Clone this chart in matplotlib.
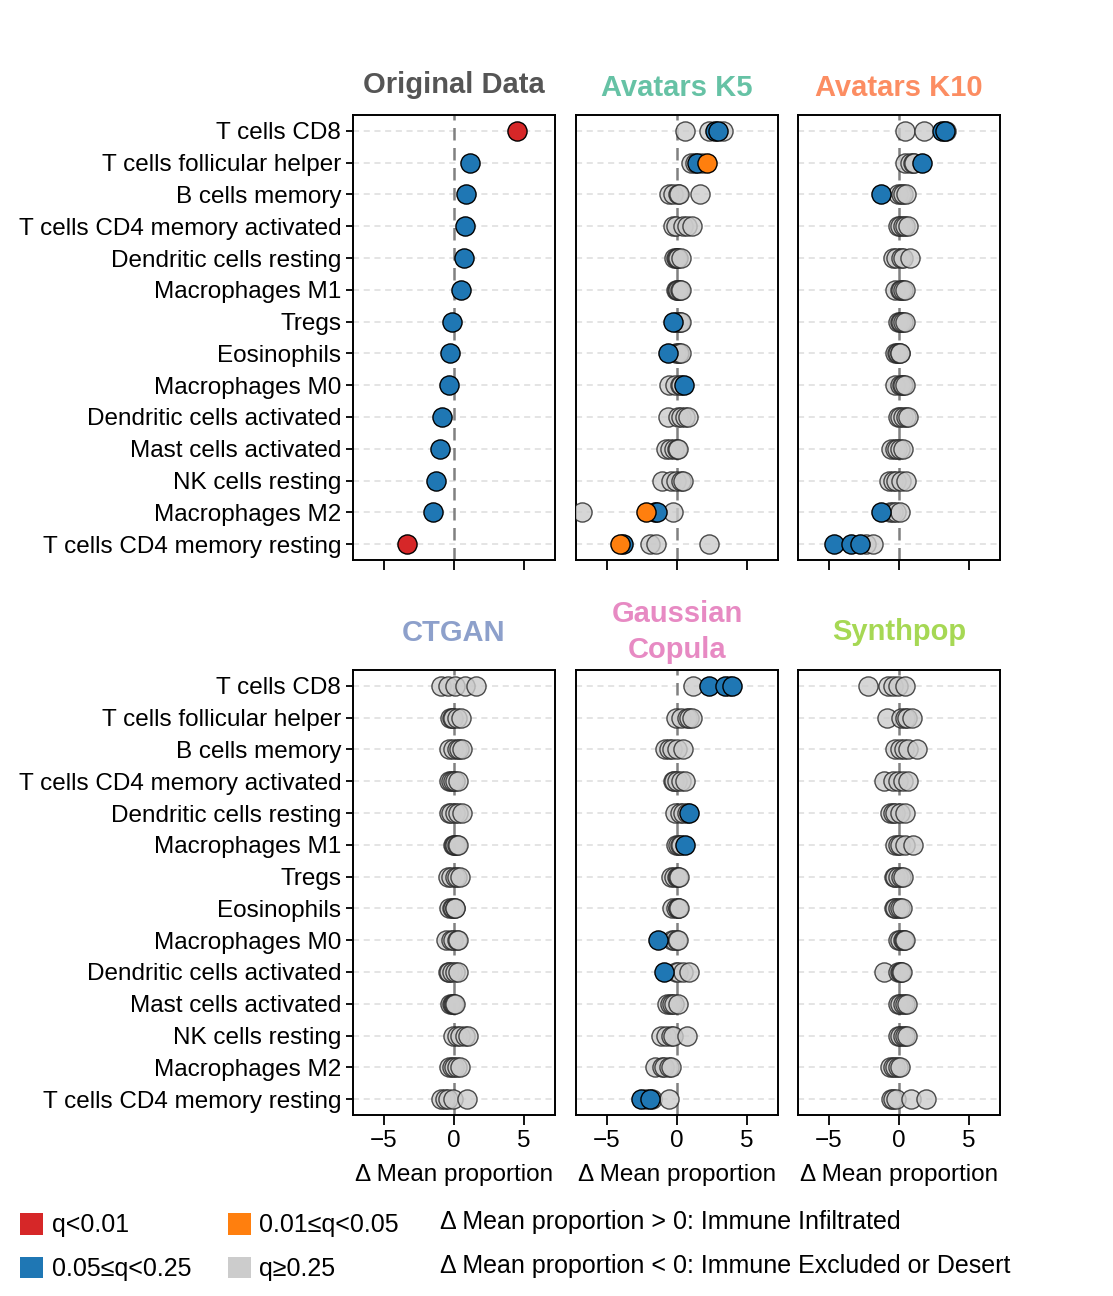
import matplotlib
matplotlib.use("Agg")
import matplotlib.pyplot as plt
from matplotlib.patches import Patch

plt.rcParams['font.family'] = ['Liberation Sans', 'DejaVu Sans']

cell_types = ["T cells CD8", "T cells follicular helper", "B cells memory",
              "T cells CD4 memory activated", "Dendritic cells resting", "Macrophages M1",
              "Tregs", "Eosinophils", "Macrophages M0", "Dendritic cells activated",
              "Mast cells activated", "NK cells resting", "Macrophages M2",
              "T cells CD4 memory resting"]

panel_titles = ["Original Data", "Avatars K5", "Avatars K10", "CTGAN", "Gaussian\nCopula", "Synthpop"]
title_colors = ["#555555", "#66c2a5", "#fc8d62", "#8da0cb", "#e78ac3", "#a6d854"]

cat_colors = {"r": "#d62728", "o": "#ff7f0e", "b": "#1f77b4", "g": "#cccccc"}
legend_labels = {"r": "q<0.01", "o": "0.01≤q<0.05", "b": "0.05≤q<0.25", "g": "q≥0.25"}

orig_vals = [[4.47], [1.13], [0.85], [0.78], [0.71], [0.5], [-0.14], [-0.28], [-0.35],
             [-0.85], [-1.0], [-1.28], [-1.49], [-3.33]]
orig_cats = [["r"], ["b"], ["b"], ["b"], ["b"], ["b"], ["b"], ["b"], ["b"], ["b"], ["b"],
             ["b"], ["b"], ["r"]]

k5_vals = [[0.55, 2.25, 2.7, 2.9, 3.3], [1.0, 1.25, 1.45, 1.75, 2.15],
           [-0.55, -0.25, 0.05, 0.15, 1.65], [-0.3, -0.05, 0.45, 0.7, 1.05],
           [-0.2, -0.1, 0.0, 0.1, 0.25], [-0.05, 0.0, 0.1, 0.2, 0.25],
           [-0.25, -0.1, 0.05, 0.2, 0.3], [-0.65, -0.1, 0.05, 0.15, 0.25],
           [-0.6, -0.15, 0.2, 0.3, 0.5], [-0.65, 0.1, 0.25, 0.6, 0.75],
           [-0.75, -0.5, -0.2, 0.0, 0.1], [-1.05, -0.4, -0.1, 0.25, 0.45],
           [-6.75, -2.2, -1.6, -1.4, -0.25], [-4.05, -3.85, -1.9, -1.5, 2.25]]
k5_cats = [list("ggbbg"), list("ggbgo"), list("ggggg"), list("ggggg"), list("ggggg"),
           list("ggggg"), list("bgggg"), list("bgggg"), list("ggggb"), list("ggggg"),
           list("ggggg"), list("ggggg"), list("gobbg"), list("obggg")]

k10_vals = [[0.45, 1.8, 3.1, 3.3, 3.35], [0.4, 0.75, 1.0, 1.1, 1.65],
            [-1.3, -0.05, 0.15, 0.3, 0.5], [-0.05, 0.1, 0.3, 0.45, 0.65],
            [-0.4, -0.2, 0.15, 0.3, 0.75], [-0.25, 0.05, 0.15, 0.3, 0.4],
            [-0.05, 0.05, 0.15, 0.3, 0.4], [-0.3, -0.15, -0.05, 0.05, 0.1],
            [-0.25, 0.05, 0.2, 0.3, 0.4], [-0.05, 0.05, 0.3, 0.5, 0.65],
            [-0.55, -0.3, -0.15, 0.1, 0.3], [-0.7, -0.45, -0.2, 0.15, 0.5],
            [-1.3, -0.65, -0.4, -0.2, 0.1], [-4.6, -3.4, -2.8, -2.35, -1.85]]
k10_cats = [list("ggbbg"), list("ggggb"), list("bgggg"), list("ggggg"), list("ggggg"),
            list("ggggg"), list("ggggg"), list("ggggg"), list("ggggg"), list("ggggg"),
            list("ggggg"), list("ggggg"), list("bgggg"), list("bbbgg")]

ctgan_vals = [[-0.9, -0.45, 0.05, 0.75, 1.55], [-0.3, -0.15, -0.05, 0.2, 0.5],
              [-0.35, -0.1, 0.2, 0.35, 0.6], [-0.35, -0.2, -0.05, 0.1, 0.3],
              [-0.35, -0.2, 0.05, 0.3, 0.6], [-0.1, 0.0, 0.1, 0.2, 0.25],
              [-0.45, -0.2, 0.05, 0.2, 0.4], [-0.35, -0.15, -0.05, 0.05, 0.1],
              [-0.6, -0.2, -0.05, 0.2, 0.3], [-0.45, -0.35, -0.15, 0.1, 0.3],
              [-0.3, -0.15, -0.05, 0.0, 0.1], [-0.1, 0.2, 0.4, 0.75, 1.0],
              [-0.35, -0.15, 0.0, 0.2, 0.45], [-0.9, -0.65, -0.45, -0.05, 0.9]]
ctgan_cats = [list("ggggg") for _ in range(14)]

gc_vals = [[1.15, 2.3, 3.45, 3.7, 3.95], [-0.05, 0.3, 0.7, 0.85, 1.05],
           [-0.85, -0.6, -0.35, 0.0, 0.45], [-0.3, -0.2, 0.0, 0.3, 0.6],
           [-0.15, 0.2, 0.4, 0.7, 0.85], [-0.05, 0.1, 0.2, 0.3, 0.6],
           [-0.45, -0.2, 0.0, 0.1, 0.15], [-0.35, -0.1, 0.05, 0.1, 0.15],
           [-1.35, -0.35, -0.2, 0.0, 0.1], [-0.9, -0.05, 0.1, 0.4, 0.85],
           [-0.7, -0.5, -0.35, -0.2, 0.05], [-1.15, -0.75, -0.45, -0.3, 0.7],
           [-1.55, -1.1, -0.95, -0.6, -0.45], [-2.6, -2.2, -1.9, -1.75, -0.6]]
gc_cats = [list("gbbgb"), list("ggggg"), list("ggggg"), list("ggggg"), list("ggggb"),
           list("ggggb"), list("ggggg"), list("ggggg"), list("bgggg"), list("bgggg"),
           list("ggggg"), list("ggggg"), list("ggggg"), list("bgbgg")]

sp_vals = [[-2.2, -0.8, -0.45, -0.1, 0.4], [-0.85, 0.15, 0.4, 0.6, 0.95],
           [-0.3, 0.1, 0.35, 0.65, 1.25], [-1.05, -0.45, -0.1, 0.3, 0.65],
           [-0.65, -0.45, -0.3, 0.1, 0.4], [-0.3, -0.1, 0.05, 0.4, 1.0],
           [-0.35, -0.25, -0.1, 0.15, 0.3], [-0.35, -0.25, -0.05, 0.1, 0.2],
           [-0.1, 0.05, 0.3, 0.35, 0.4], [-1.05, -0.05, 0.05, 0.15, 0.2],
           [-0.1, 0.05, 0.25, 0.4, 0.55], [-0.1, 0.1, 0.25, 0.4, 0.6],
           [-0.65, -0.45, -0.3, -0.1, 0.05], [-0.55, -0.4, -0.2, 0.85, 1.9]]
sp_cats = [list("ggggg") for _ in range(14)]

panels = [(orig_vals, orig_cats), (k5_vals, k5_cats), (k10_vals, k10_cats),
          (ctgan_vals, ctgan_cats), (gc_vals, gc_cats), (sp_vals, sp_cats)]

W, H = 1113, 1296
fig = plt.figure(figsize=(W / 100, H / 100), dpi=100)

col_x = [353, 576, 798]
row_top = [115, 670]
title_center = [85, 88, 88, 633, 632, 632]
ax_w, ax_h = 202, 445

draw_order = ["g", "b", "o", "r"]
FS = 17.5

for i, ((vals, cats), title, tcol) in enumerate(zip(panels, panel_titles, title_colors)):
    r, c = divmod(i, 3)
    ax = fig.add_axes([col_x[c] / W, 1 - (row_top[r] + ax_h) / H, ax_w / W, ax_h / H])
    ax.set_xlim(-7.2, 7.2)
    ax.set_ylim(13.5, -0.5)
    for y in range(len(cell_types)):
        ax.axhline(y, color="#dddddd", lw=1.1, dashes=(4, 3), zorder=0)
    ax.axvline(0, color="#808080", lw=1.8, dashes=(5, 3), zorder=1)
    for cat in draw_order:
        xs, ys = [], []
        for y, (rv, rc) in enumerate(zip(vals, cats)):
            for v, cc in zip(rv, rc):
                if cc == cat:
                    xs.append(v)
                    ys.append(y)
        if not xs:
            continue
        if cat == "g":
            ax.scatter(xs, ys, s=190, c=cat_colors[cat], edgecolors="#222222",
                       linewidths=1.0, alpha=0.8, zorder=3)
        else:
            ax.scatter(xs, ys, s=190, c=cat_colors[cat], edgecolors="black",
                       linewidths=1.0, alpha=1.0, zorder=4)
    for sp in ax.spines.values():
        sp.set_linewidth(1.4)
    ax.set_xticks([-5, 0, 5])
    ax.tick_params(axis="x", length=7, width=1.3, labelsize=FS)
    if c == 0:
        ax.set_yticks(range(len(cell_types)))
        ax.set_yticklabels(cell_types, fontsize=FS)
        ax.tick_params(axis="y", length=5, width=1.3)
    else:
        ax.set_yticks([])
    if r == 0:
        ax.set_xticklabels([])
    else:
        ax.set_xlabel("Δ Mean proportion", fontsize=FS, labelpad=9)
    ty = 1 + (row_top[r] - title_center[i]) / ax_h
    ax.text(0.5, ty, title, transform=ax.transAxes, ha="center", va="center",
            fontsize=21, fontweight="bold", color=tcol, linespacing=1.38)

handles = [Patch(facecolor=cat_colors[k], edgecolor="none", label=legend_labels[k])
           for k in ["r", "b", "o", "g"]]
fig.legend(handles=handles, ncol=2, loc="upper left", bbox_to_anchor=(10 / W, 1 - 1203 / H),
           frameon=False, fontsize=18, handlelength=0.92, handleheight=0.95,
           handletextpad=0.35, columnspacing=1.45, labelspacing=0.78, borderaxespad=0)

fig.text(440 / W, 1 - 1222 / H, "Δ Mean proportion > 0: Immune Infiltrated",
         fontsize=18, va="center", ha="left")
fig.text(440 / W, 1 - 1266 / H, "Δ Mean proportion < 0: Immune Excluded or Desert",
         fontsize=18, va="center", ha="left")

fig.savefig("out.png", dpi=100, facecolor="white")
